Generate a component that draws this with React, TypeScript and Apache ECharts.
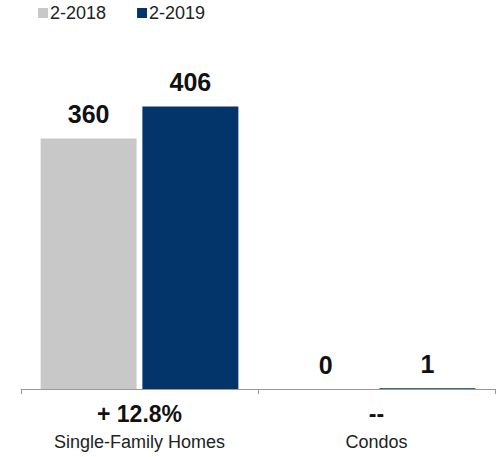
import React, { useEffect, useRef } from "react";
import * as echarts from "echarts";

const categories = ["Single-Family Homes", "Condos"];
const changes = ["+ 12.8%", "--"];
const series2018 = [360, 0];
const series2019 = [406, 1];
const seriesNames = ["2-2018", "2-2019"];

export default function App() {
  const ref = useRef<HTMLDivElement>(null);
  useEffect(() => {
    if (!ref.current) return;
    const chart = echarts.init(ref.current, null, { renderer: "svg" });
    const font = "Liberation Sans, Arial, Helvetica, sans-serif";
    const barLabel = {
      show: true,
      position: "top",
      distance: 12,
      fontSize: 25,
      fontWeight: "bold",
      color: "#111",
      fontFamily: font,
    };
    chart.setOption({
      animation: false,
      textStyle: { fontFamily: font },
      legend: {
        data: seriesNames,
        left: 38,
        top: 4,
        padding: 0,
        icon: "rect",
        itemWidth: 10,
        itemHeight: 10,
        itemGap: 31,
        textStyle: { fontSize: 18, color: "#222", fontFamily: font, padding: [0, 0, 0, -3] },
      },
      grid: { left: 21, right: 6, top: 41, bottom: 68, containLabel: false },
      xAxis: {
        type: "category",
        data: categories,
        axisLine: { lineStyle: { color: "#999", width: 1 } },
        axisTick: { show: true, length: 5, lineStyle: { color: "#999" } },
        axisLabel: {
          interval: 0,
          margin: 10,
          formatter: (v: string, i: number) => `{c|${changes[i]}}\n{n|${v}}`,
          rich: {
            c: { fontSize: 23, fontWeight: "bold", color: "#111", lineHeight: 30, fontFamily: font },
            n: { fontSize: 18, color: "#222", lineHeight: 25, fontFamily: font },
          },
        },
      },
      yAxis: {
        type: "value",
        min: 0,
        max: 500,
        show: false,
        splitLine: { show: false },
      },
      series: [
        {
          name: seriesNames[0],
          type: "bar",
          data: series2018,
          barWidth: "40.5%",
          barGap: "6%",
          itemStyle: { color: "#c8c8c8" },
          label: barLabel,
        },
        {
          name: seriesNames[1],
          type: "bar",
          data: series2019,
          barWidth: "40.5%",
          itemStyle: { color: "#04356a" },
          label: barLabel,
        },
      ],
    });
    return () => chart.dispose();
  }, []);
  return <div ref={ref} style={{ width: 501, height: 457, position: "absolute", left: 0, top: 0 }} />;
}
